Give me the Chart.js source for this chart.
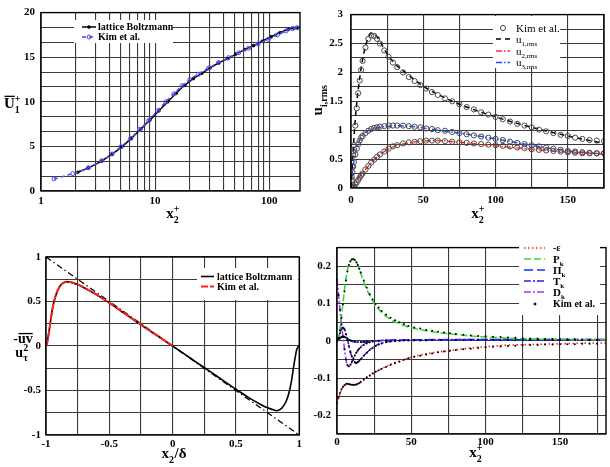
<!DOCTYPE html>
<html><head><meta charset="utf-8">
<script src="https://cdn.jsdelivr.net/npm/chart.js@4"></script>
<style>
html,body{margin:0;padding:0;background:#fff;width:610px;height:467px;overflow:hidden}
canvas{position:absolute}
</style></head><body>
<canvas id="c1" width="305" height="230" style="left:0;top:0"></canvas>
<canvas id="c2" width="305" height="230" style="left:305px;top:0"></canvas>
<canvas id="c3" width="305" height="232" style="left:0;top:235px"></canvas>
<canvas id="c4" width="305" height="232" style="left:305px;top:235px"></canvas>
<script>
// ---------------- Panel 1: mean velocity (log x) ----------------
const lbX1 = [2.1,2.6,3.4,4.2,5.1,6.2,7.5,9.0,10.8,12.9,15.3,18.2,21.6,25.6,30.3,36,43,51,61,73,87,104,124,147,165,178];
const lbY1 = [2.1,2.6,3.35,4.15,4.95,5.9,6.95,7.95,9.0,10.0,10.95,11.85,12.6,13.2,13.8,14.35,14.85,15.35,15.85,16.3,16.8,17.3,17.75,18.1,18.25,18.3];
const kimX1 = [1.3,1.9,2.6,3.4,4.2,5.0,6.1,7.3,8.8,10.5,12.4,14.6,17.2,20.2,24,29.5,36,44,54,66,80,98,118,140,160,175];
const kimY1 = [1.35,1.95,2.6,3.4,4.15,4.95,5.9,6.9,7.9,9.0,10.0,10.9,11.8,12.5,13.1,13.8,14.4,14.95,15.5,16.0,16.5,17.0,17.5,17.95,18.2,18.3];
const xLabels1 = [1,10,100];
const yLabels1 = [0,5,10,15,20];

// ---------------- Panel 2: rms velocities ----------------
const u1X = [0,1,2,3,4,5,6,7,8,10,12,14,16,18,20,25,30,40,50,60,75,100,125,150,175];
const u1Y = [0,0.45,0.85,1.2,1.48,1.7,1.9,2.07,2.22,2.45,2.6,2.68,2.67,2.62,2.54,2.32,2.16,1.95,1.76,1.62,1.45,1.23,1.05,0.9,0.77];
const u2X = [0,2,4,6,8,10,15,20,25,30,40,50,60,75,100,125,150,175];
const u2Y = [0,0.04,0.12,0.2,0.26,0.32,0.46,0.58,0.66,0.72,0.78,0.815,0.82,0.79,0.73,0.67,0.62,0.59];
const u3X = [0,1,2,3,5,7,10,15,20,30,40,50,60,75,100,125,150,175];
const u3Y = [0,0.28,0.47,0.6,0.78,0.88,0.96,1.02,1.05,1.075,1.07,1.04,1.0,0.95,0.85,0.74,0.64,0.59];
const kimX2 = [0.5,1,1.5,2,3,4,5,6,7,8,10,12,14,16,18,20,23,26,29,32,36,40,44,48,52,56,60,65,70,75,80,85,90,95,100,105,110,115,120,125,130,135,140,145,150,155,160,165,170,175];
const kimU1 = [0.19,0.37,0.56,0.74,1.08,1.38,1.64,1.86,2.04,2.2,2.43,2.58,2.64,2.63,2.58,2.5,2.38,2.27,2.17,2.09,2.0,1.92,1.85,1.78,1.72,1.66,1.61,1.55,1.5,1.45,1.4,1.36,1.31,1.27,1.23,1.19,1.15,1.11,1.08,1.05,1.01,0.98,0.95,0.92,0.9,0.87,0.85,0.83,0.82,0.81];
const kimU2 = [0.0,0.01,0.02,0.03,0.06,0.1,0.14,0.18,0.22,0.25,0.32,0.38,0.44,0.49,0.54,0.58,0.63,0.68,0.72,0.74,0.77,0.79,0.8,0.81,0.82,0.82,0.82,0.81,0.8,0.79,0.78,0.77,0.76,0.75,0.74,0.73,0.72,0.7,0.69,0.67,0.66,0.65,0.64,0.63,0.62,0.61,0.6,0.6,0.6,0.6];
const kimU3 = [0.14,0.27,0.37,0.45,0.58,0.68,0.76,0.82,0.87,0.9,0.95,0.99,1.02,1.04,1.05,1.06,1.07,1.08,1.08,1.08,1.08,1.07,1.06,1.05,1.03,1.02,1.0,0.99,0.97,0.95,0.93,0.91,0.89,0.87,0.85,0.83,0.8,0.78,0.76,0.74,0.72,0.7,0.68,0.66,0.64,0.63,0.62,0.61,0.6,0.6];

// ---------------- Panel 3: Reynolds shear stress ----------------
const lbX3 = [-1,-0.99,-0.98,-0.97,-0.96,-0.95,-0.94,-0.92,-0.9,-0.88,-0.86,-0.84,-0.82,-0.8,-0.75,-0.7,-0.6,-0.5,-0.4,-0.3,-0.2,-0.1,0,0.1,0.2,0.3,0.4,0.5,0.6,0.7,0.75,0.8,0.82,0.84,0.86,0.88,0.9,0.92,0.94,0.955,0.97,0.98,0.99,1];
const lbY3 = [0,0.05,0.13,0.22,0.32,0.41,0.48,0.58,0.645,0.69,0.71,0.72,0.72,0.715,0.69,0.655,0.575,0.485,0.385,0.285,0.19,0.095,0,-0.097,-0.195,-0.29,-0.39,-0.485,-0.58,-0.66,-0.695,-0.72,-0.727,-0.72,-0.7,-0.665,-0.61,-0.52,-0.38,-0.24,-0.11,-0.04,-0.01,0];
const kimX3 = [-1,-0.99,-0.98,-0.97,-0.96,-0.95,-0.94,-0.92,-0.9,-0.88,-0.86,-0.84,-0.82,-0.8,-0.75,-0.7,-0.6,-0.5,-0.4,-0.3,-0.2,-0.1,0];
const kimY3 = [0,0.04,0.12,0.22,0.32,0.41,0.48,0.585,0.65,0.69,0.712,0.722,0.722,0.716,0.692,0.658,0.578,0.485,0.388,0.29,0.193,0.097,0];
const diagX3 = [-1,1];
const diagY3 = [1,-1];

// ---------------- Panel 4: TKE budget ----------------
const epsX = [0,1,2,3,4,5,6,7,8,9,10,12,14,16,18,20,23,26,30,35,40,45,50,60,70,80,90,100,110,120,130,140,150,160,170,181];
const epsY = [-0.168,-0.155,-0.142,-0.132,-0.125,-0.12,-0.117,-0.116,-0.117,-0.118,-0.119,-0.119,-0.116,-0.111,-0.105,-0.099,-0.092,-0.084,-0.075,-0.065,-0.057,-0.05,-0.044,-0.035,-0.029,-0.024,-0.019,-0.016,-0.013,-0.011,-0.01,-0.009,-0.008,-0.007,-0.006,-0.006];
const pkX = [0,1,2,3,4,5,6,7,8,9,10,11,12,13,14,15,17,19,21,23,25,28,31,35,40,45,50,60,70,80,90,100,110,120,130,140,150,160,170,181];
const pkY = [0,0.008,0.03,0.065,0.1,0.135,0.165,0.19,0.205,0.214,0.219,0.22,0.218,0.212,0.203,0.192,0.17,0.148,0.13,0.115,0.1,0.085,0.073,0.06,0.049,0.041,0.035,0.027,0.021,0.017,0.013,0.01,0.008,0.006,0.005,0.004,0.004,0.003,0.003,0.003];
const piX = [0,2,4,6,8,10,12,15,20,25,30,40,60,100,140,181];
const piY = [0,0.006,0.01,0.008,0.003,-0.001,-0.003,-0.004,-0.003,-0.001,0.001,0.002,0.002,0.002,0.003,0.003];
const tkX = [0,1,2,3,4,5,6,7,8,9,10,11,12,13,14,15,17,19,21,23,25,28,31,35,40,50,70,100,140,181];
const tkY = [0,0.008,0.022,0.032,0.036,0.032,0.02,0.004,-0.013,-0.03,-0.043,-0.053,-0.059,-0.06,-0.058,-0.054,-0.045,-0.036,-0.028,-0.021,-0.015,-0.009,-0.005,-0.002,0,0.002,0.003,0.003,0.003,0.003];
const dkX = [0,1,2,3,4,5,6,7,8,9,10,11,12,13,14,15,17,19,21,25,30,40,60,100,140,181];
const dkY = [0.166,0.125,0.085,0.045,0.012,-0.02,-0.05,-0.066,-0.069,-0.065,-0.057,-0.048,-0.04,-0.032,-0.026,-0.02,-0.012,-0.007,-0.004,-0.001,0.001,0.002,0.003,0.004,0.004,0.004];
const kimEpsX = [0,1,2,3,4,5,6,7,8,9,10,11,12,13,14,15,16,18,20,22,24,26,28,30,33,36,39,42,45,48,52,56,60,64,68,72,76,80,85,90,95,100,105,110,115,120,125,130,135,140,145,150,155,160,165,170,175];
const kimEpsY = [-0.166,-0.153,-0.14,-0.13,-0.123,-0.119,-0.116,-0.115,-0.116,-0.117,-0.118,-0.118,-0.118,-0.117,-0.115,-0.113,-0.11,-0.104,-0.098,-0.093,-0.088,-0.083,-0.079,-0.075,-0.07,-0.065,-0.06,-0.056,-0.051,-0.047,-0.043,-0.04,-0.037,-0.034,-0.031,-0.029,-0.027,-0.025,-0.023,-0.021,-0.019,-0.017,-0.016,-0.015,-0.014,-0.013,-0.012,-0.011,-0.011,-0.01,-0.01,-0.009,-0.009,-0.009,-0.008,-0.008,-0.008];
const kimPkX = kimEpsX;
const kimPkY = [0,0.007,0.028,0.062,0.098,0.132,0.162,0.186,0.203,0.213,0.218,0.219,0.217,0.211,0.203,0.193,0.183,0.162,0.142,0.125,0.111,0.099,0.089,0.08,0.07,0.062,0.055,0.05,0.045,0.04,0.036,0.033,0.029,0.027,0.024,0.022,0.02,0.018,0.016,0.014,0.013,0.012,0.011,0.01,0.009,0.008,0.007,0.006,0.006,0.005,0.005,0.004,0.004,0.004,0.003,0.003,0.003];
const kimPiX = [0,1,2,3,4,5,6,7,8,9,10,12,14,16,18,20,24,28,33,39,45,52,60,70,80,90,100,110,120,130,140,150,160,170,175];
const kimPiY = [0,0.004,0.008,0.011,0.012,0.011,0.009,0.006,0.003,0.001,0,-0.002,-0.003,-0.003,-0.003,-0.002,-0.001,0,0.001,0.001,0.001,0.001,0.001,0.002,0.002,0.002,0.002,0.002,0.002,0.002,0.002,0.002,0.002,0.002,0.002];
const kimTkX = [0,1,2,3,4,5,6,7,8,9,10,11,12,13,14,15,16,18,20,22,24,26,28,30,33,36,39,42,48,56,64,75,85,95,105,115,125,135,145,155,165,175];
const kimTkY = [0,0.007,0.02,0.03,0.034,0.03,0.018,0.003,-0.014,-0.03,-0.042,-0.051,-0.057,-0.059,-0.057,-0.053,-0.049,-0.04,-0.032,-0.025,-0.019,-0.014,-0.01,-0.007,-0.004,-0.002,-0.001,0,0.001,0.001,0.002,0.003,0.003,0.003,0.003,0.003,0.003,0.003,0.003,0.003,0.003,0.003];
const kimDkX = [0,1,2,3,4,5,6,7,8,9,10,11,12,13,14,15,16,18,20,22,24,28,33,39,45,52,60];
const kimDkY = [0.164,0.123,0.083,0.044,0.01,-0.022,-0.05,-0.065,-0.068,-0.064,-0.056,-0.047,-0.039,-0.032,-0.026,-0.021,-0.017,-0.011,-0.007,-0.004,-0.002,0,0.001,0.001,0.002,0.002,0.002];

// ---------------- helpers ----------------
const FONT = '"Liberation Serif","Times New Roman",Times,serif';
Chart.defaults.font.family = FONT;
function xy(xs, ys){ return xs.map((x,i)=>({x:x, y:ys[i]})); }
function gridSeq(a,b,s){ const r=[]; const n=Math.round((b-a)/s); for(let i=0;i<=n;i++) r.push(a+i*s); return r; }
function isMult(v,m){ return Math.abs(v/m-Math.round(v/m))<1e-6; }
function num(v){ return String(Math.round(v*1000)/1000); }

function drawRich(ctx, x, y, parts, size, weight, align){
  const small = Math.round(size*0.68);
  const f = s => weight+' '+s+'px '+FONT;
  let w=0; const segs=[];
  for(const p of parts){
    if(p.t!==undefined){ ctx.font=f(size); const tw=ctx.measureText(p.t).width; segs.push({k:'t',p:p,w:tw}); w+=tw; }
    else { ctx.font=f(small); const w1=p.sub?ctx.measureText(p.sub).width:0; const w2=p.sup?ctx.measureText(p.sup).width:0; const tw=Math.max(w1,w2)+0.5; segs.push({k:'s',p:p,w:tw}); w+=tw; }
  }
  let cx = align==='center' ? x-w/2 : (align==='right' ? x-w : x);
  ctx.textBaseline='alphabetic'; ctx.textAlign='left';
  for(const s of segs){
    if(s.k==='t'){
      ctx.font=f(size); ctx.fillText(s.p.t,cx,y);
      if(s.p.over) ctx.fillRect(cx+0.5, y-size*(s.p.overH||0.82), s.w-0.5, 1.3);
    } else {
      ctx.font=f(small);
      if(s.p.sub) ctx.fillText(s.p.sub,cx,y+size*0.3);
      if(s.p.sup) ctx.fillText(s.p.sup,cx,y-size*0.42);
    }
    cx+=s.w;
  }
  return w;
}

const deco = {
  id:'deco',
  afterDraw(chart, args, o){
    const ctx=chart.ctx, a=chart.chartArea;
    ctx.save();
    ctx.strokeStyle='#000'; ctx.lineWidth=1.4; ctx.setLineDash([]);
    ctx.strokeRect(a.left, a.top, a.right-a.left, a.bottom-a.top);
    if(o.box){ ctx.fillStyle='#fff'; ctx.fillRect(o.box[0],o.box[1],o.box[2],o.box[3]); }
    (o.legend||[]).forEach(it=>{
      const ds=chart.data.datasets[it.ds];
      if(it.line!==false){
        ctx.beginPath(); ctx.setLineDash(ds.borderDash||[]); ctx.strokeStyle=ds.borderColor; ctx.lineWidth=ds.borderWidth;
        ctx.moveTo(it.x1,it.y); ctx.lineTo(it.x2,it.y); ctx.stroke(); ctx.setLineDash([]);
      }
      if(it.marker){
        const mx=(it.x1+it.x2)/2;
        ctx.beginPath(); ctx.arc(mx,it.y,ds.pointRadius||1.5,0,Math.PI*2);
        ctx.fillStyle=ds.pointBackgroundColor||'#000'; ctx.fill();
        ctx.lineWidth=ds.pointBorderWidth||1; ctx.strokeStyle=ds.pointBorderColor||'#000'; ctx.stroke();
      }
      ctx.fillStyle='#000';
      drawRich(ctx, it.tx, it.y+it.size*0.33, it.parts, it.size, it.weight||'bold', 'left');
    });
    (o.texts||[]).forEach(t=>{
      ctx.fillStyle='#000';
      if(t.rot){ ctx.save(); ctx.translate(t.x,t.y); ctx.rotate(-Math.PI/2); drawRich(ctx,0,0,t.parts,t.size,'bold','center'); ctx.restore(); }
      else drawRich(ctx,t.x,t.y,t.parts,t.size,'bold',t.align||'center');
    });
    ctx.restore();
  }
};

function axis(o){
  return {
    type:o.type||'linear', min:o.min, max:o.max, position:o.pos,
    afterBuildTicks:s=>{ s.ticks=o.grid.map(v=>({value:v})); },
    afterFit:s=>{ if(o.pos==='bottom') s.height=o.size; else s.width=o.size; },
    ticks:{autoSkip:false,maxRotation:0,minRotation:0,padding:o.pad,color:'#000',
      font:{family:FONT,size:11,weight:'bold'}, callback:v=>o.label(v)},
    grid:{color:'#3a3a3a',lineWidth:1.1,drawTicks:false},
    border:{display:false}
  };
}
function baseOpts(pad, scales, deco){
  return {responsive:false, animation:false, devicePixelRatio:1,
    layout:{padding:pad},
    plugins:{legend:{display:false}, tooltip:{enabled:false}, deco:deco},
    elements:{point:{radius:0}, line:{tension:0, cubicInterpolationMode:'monotone'}},
    scales:scales};
}

// ---------------- Chart 1 ----------------
const logGrid=[]; for(let d=1; d<=100; d*=10){ for(let k=1;k<=9;k++){ const v=k*d; if(v<=186) logGrid.push(v);} }
new Chart(document.getElementById('c1'), {
  type:'line',
  data:{datasets:[
    {data:xy(kimX1,kimY1), borderColor:'#4a4af0', borderWidth:1.5, borderDash:[4,3], pointRadius:2, pointBorderColor:'#4a4af0', pointBackgroundColor:'rgba(255,255,255,0)', pointBorderWidth:1},
    {data:xy(lbX1,lbY1), borderColor:'#000', borderWidth:1.5, pointRadius:1.5, pointBorderColor:'#000', pointBackgroundColor:'#000', pointBorderWidth:0.5}
  ]},
  options:baseOpts({left:0,right:3,top:7,bottom:0},{
    x:axis({type:'logarithmic',pos:'bottom',min:1,max:186,grid:logGrid,size:39,pad:4,label:v=>xLabels1.includes(v)?String(v):''}),
    y:axis({pos:'left',min:0,max:20,grid:gridSeq(0,20,20/12),size:41,pad:6,label:v=>yLabels1.some(l=>Math.abs(l-v)<1e-6)?num(v):''})
  },{
    box:[74,20,99,23],
    legend:[
      {ds:1,x1:82,x2:96,y:27,tx:98,size:10,marker:true,parts:[{t:'lattice Boltzmann'}]},
      {ds:0,x1:82,x2:96,y:37,tx:98,size:10,marker:true,parts:[{t:'Kim et al.'}]}
    ],
    texts:[
      {x:4,y:108,size:15,align:'left',parts:[{t:'U',over:true},{sub:'1',sup:'+'}]},
      {x:173,y:218,size:15,parts:[{t:'x'},{sub:'2',sup:'+'}]}
    ]
  }),
  plugins:[deco]
});

// ---------------- Chart 2 ----------------
const circ = {showLine:false, pointRadius:2.6, pointBorderColor:'#4a4a4a', pointBackgroundColor:'rgba(255,255,255,0)', pointBorderWidth:1, borderColor:'#4a4a4a', borderWidth:1};
new Chart(document.getElementById('c2'), {
  type:'line',
  data:{datasets:[
    Object.assign({data:xy(kimX2,kimU1)},circ),
    Object.assign({data:xy(kimX2,kimU2)},circ),
    Object.assign({data:xy(kimX2,kimU3)},circ),
    {data:xy(u1X,u1Y), borderColor:'#000', borderWidth:1.5, borderDash:[5,4]},
    {data:xy(u2X,u2Y), borderColor:'#ff2a2a', borderWidth:1.5, borderDash:[6,2,1.5,2]},
    {data:xy(u3X,u3Y), borderColor:'#2a4aff', borderWidth:1.5, borderDash:[6,2,1.5,2]}
  ]},
  options:baseOpts({left:0,right:2,top:7,bottom:0},{
    x:axis({pos:'bottom',min:0,max:175,grid:gridSeq(0,175,25),size:42,pad:6,label:v=>isMult(v,50)?num(v):''}),
    y:axis({pos:'left',min:0,max:3,grid:gridSeq(0,3,0.25),size:46,pad:8,label:v=>isMult(v,0.5)?num(v):''})
  },{
    box:[188,16,67,52],
    legend:[
      {ds:0,x1:191,x2:205,y:28,tx:211,size:11,weight:'normal',line:false,marker:true,parts:[{t:'Kim et al.'}]},
      {ds:3,x1:191,x2:205,y:39,tx:211,size:11,weight:'normal',parts:[{t:'u'},{sub:'1,rms'}]},
      {ds:4,x1:191,x2:205,y:51,tx:211,size:11,weight:'normal',parts:[{t:'u'},{sub:'2,rms'}]},
      {ds:5,x1:191,x2:205,y:62.5,tx:211,size:11,weight:'normal',parts:[{t:'u'},{sub:'3,rms'}]}
    ],
    texts:[
      {x:17,y:100,size:15,rot:true,parts:[{t:'u'},{sub:'i,rms'}]},
      {x:173,y:218,size:15,parts:[{t:'x'},{sub:'2',sup:'+'}]}
    ]
  }),
  plugins:[deco]
});

// ---------------- Chart 3 ----------------
new Chart(document.getElementById('c3'), {
  type:'line',
  data:{datasets:[
    {data:xy(kimX3,kimY3), borderColor:'#ff2020', borderWidth:2, borderDash:[7,2]},
    {data:xy(lbX3,lbY3), borderColor:'#000', borderWidth:1.6},
    {data:xy(diagX3,diagY3), borderColor:'#000', borderWidth:1.3, borderDash:[6,3,1.5,3]}
  ]},
  options:baseOpts({left:0,right:4,top:22,bottom:0},{
    x:axis({pos:'bottom',min:-1,max:1,grid:gridSeq(-1,1,0.25),size:32,pad:3,label:v=>isMult(v,0.5)?num(v):''}),
    y:axis({pos:'left',min:-1,max:1,grid:gridSeq(-1,1,0.25),size:46,pad:5,label:v=>isMult(v,0.5)?num(v):''})
  },{
    box:[197,33,101,32],
    legend:[
      {ds:1,x1:201,x2:214,y:41.5,tx:217,size:10,parts:[{t:'lattice Boltzmann'}]},
      {ds:0,x1:201,x2:214,y:51.5,tx:217,size:10,parts:[{t:'Kim et al.'}]}
    ],
    texts:[
      {x:23,y:108,size:14,parts:[{t:'-'},{t:'uv',over:true,overH:0.72}]},
      {x:22,y:122,size:14,parts:[{t:'u'},{sub:'τ',sup:'2'}]},
      {x:174,y:223,size:15,parts:[{t:'x'},{sub:'2'},{t:'/δ'}]}
    ]
  }),
  plugins:[deco]
});

// ---------------- Chart 4 ----------------
const dot = {showLine:false, pointRadius:1, pointBorderColor:'#000', pointBackgroundColor:'#000', pointBorderWidth:0, borderColor:'#000', borderWidth:1};
new Chart(document.getElementById('c4'), {
  type:'line',
  data:{datasets:[
    Object.assign({data:xy(kimEpsX,kimEpsY)},dot),
    Object.assign({data:xy(kimPkX,kimPkY)},dot),
    Object.assign({data:xy(kimPiX,kimPiY)},dot),
    Object.assign({data:xy(kimTkX,kimTkY)},dot),
    Object.assign({data:xy(kimDkX,kimDkY)},dot),
    {data:xy(epsX,epsY), borderColor:'#ff2020', borderWidth:1.6, borderDash:[1.5,2.5]},
    {data:xy(pkX,pkY), borderColor:'#33dd33', borderWidth:1.6, borderDash:[7,3]},
    {data:xy(piX,piY), borderColor:'#1030ff', borderWidth:1.6, borderDash:[9,4]},
    {data:xy(tkX,tkY), borderColor:'#3a1ad8', borderWidth:1.6, borderDash:[7,2,2,2]},
    {data:xy(dkX,dkY), borderColor:'#b030ff', borderWidth:1.6, borderDash:[7,2,2,2]}
  ]},
  options:baseOpts({left:0,right:1,top:7,bottom:0},{
    x:axis({pos:'bottom',min:0,max:181,grid:gridSeq(0,175,25),size:33,pad:2,label:v=>isMult(v,50)?num(v):''}),
    y:axis({pos:'left',min:-0.25,max:0.25,grid:gridSeq(-0.25,0.25,0.05),size:32,pad:6,label:v=>isMult(v,0.1)?num(v):''})
  },{
    box:[214,8,81,72],
    legend:[
      {ds:5,x1:219,x2:240,y:13,tx:248,size:10,parts:[{t:'-ε'}]},
      {ds:6,x1:219,x2:240,y:24,tx:248,size:11,parts:[{t:'P'},{sub:'k'}]},
      {ds:7,x1:219,x2:240,y:35,tx:248,size:11,parts:[{t:'Π'},{sub:'k'}]},
      {ds:8,x1:219,x2:240,y:46,tx:248,size:11,parts:[{t:'T'},{sub:'k'}]},
      {ds:9,x1:219,x2:240,y:57,tx:248,size:11,parts:[{t:'D'},{sub:'k'}]},
      {ds:0,x1:226,x2:234,y:69,tx:248,size:10,line:false,marker:true,parts:[{t:'Kim et al.'}]}
    ],
    texts:[
      {x:171,y:222,size:15,parts:[{t:'x'},{sub:'2',sup:'+'}]}
    ]
  }),
  plugins:[deco]
});
</script>
</body></html>
